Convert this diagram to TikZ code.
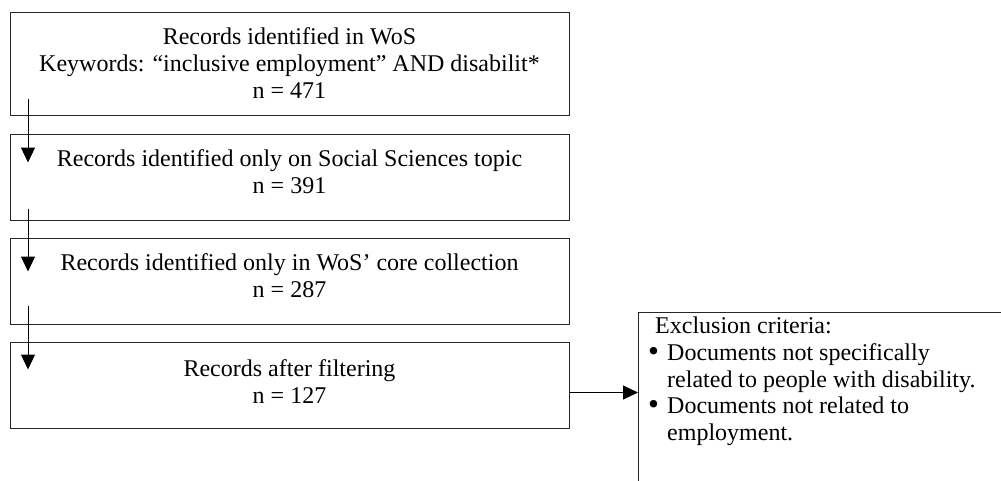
\documentclass[tikz,border=0pt]{standalone}
\usepackage{fontspec}
\setmainfont{Liberation Serif}
\usetikzlibrary{positioning,arrows.meta,calc}
\tikzset{
    recbox/.style={draw=black!85, line width=1pt, minimum width=559pt, minimum height=86pt,
        align=center, font=\fontsize{24}{27}\selectfont},
    flow/.style={-{Triangle[length=15pt,width=14pt]}, line width=1pt},
}
\newcommand{\bulitem}{\makebox[26pt][l]{\hspace*{7pt}\raisebox{-1pt}{\scalebox{1.3}{\textbullet}}}}
\begin{document}
\begin{tikzpicture}[x=1pt, y=-1pt]
    % 1. Khung hình
    \useasboundingbox (0,0) rectangle (1001,480);
    \clip (0,0) rectangle (1001,480);

    % 2. Các hộp bản ghi
    \node[recbox, minimum height=103pt] (rec1) at (289.5,63.5)
        {Records identified in WoS\\ Keywords: “inclusive employment” AND disabilit*\\ n = 471};
    \node[recbox, text depth=10pt, below=18pt of rec1] (rec2)
        {Records identified only on Social Sciences topic\\ n = 391};
    \node[recbox, text depth=10pt, below=17pt of rec2] (rec3)
        {Records identified only in WoS’ core collection\\ n = 287};
    \node[recbox, text depth=7pt, below=17pt of rec3] (rec4)
        {Records after filtering\\ n = 127};

    % 3. Mũi tên bên trái
    \coordinate (a1) at ($(rec1.south west)+(18.5,-17)$);
    \coordinate (b1) at ($(rec2.north west)+(18.5,29)$);
    \coordinate (a2) at ($(rec2.south west)+(18.5,-12)$);
    \coordinate (b2) at ($(rec3.north west)+(18.5,34)$);
    \coordinate (a3) at ($(rec3.south west)+(18.5,-19)$);
    \coordinate (b3) at ($(rec4.north west)+(18.5,28)$);
    \draw[flow] (a1) -- (b1);
    \draw[flow] (a2) -- (b2);
    \draw[flow] (a3) -- (b3);

    % 4. Hộp tiêu chí loại trừ
    \node[draw=black!85, line width=1pt, anchor=north west, minimum width=380pt,
        minimum height=190pt] (excl) at (638,312) {};
    \node[anchor=north west, align=left, inner sep=0pt, font=\fontsize{24}{26.7}\selectfont]
        (exclist) at ($(excl.north west)+(3,5)$)
        {\hspace*{14pt}Exclusion criteria:\\
         \bulitem Documents not specifically\\
         \hspace*{26pt}related to people with disability.\\
         \bulitem Documents not related to\\
         \hspace*{26pt}employment.};

    % 5. Mũi tên sang phải
    \coordinate (c4) at ($(rec4.east)+(0,7.5)$);
    \draw[flow] (c4) -- (c4 -| excl.west);
\end{tikzpicture}
\end{document}
